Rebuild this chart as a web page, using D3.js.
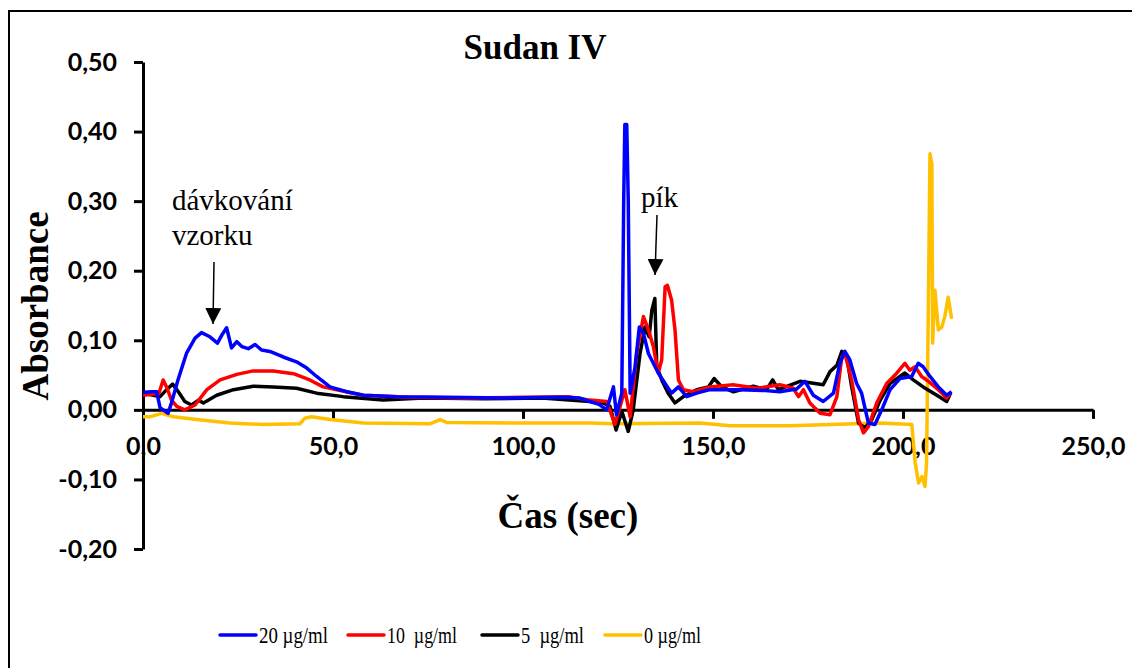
<!DOCTYPE html>
<html>
<head>
<meta charset="utf-8">
<script src="https://cdn.jsdelivr.net/npm/d3@7"></script>
<style>
  body { margin: 0; background: #fff; }
  svg { display: block; }
</style>
</head>
<body>
<svg id="container"></svg>
<script>
// time (sec) and absorbance
const blueT = [0, 2, 3.6, 4.5, 6.6, 7.5, 9.2, 11.5, 13.7, 15.4, 17.6, 19.6, 20.7, 22, 23.3, 24.7, 26, 27.7, 29.5, 31.2, 33.4, 36.9, 40.4, 43.1, 45.7, 49.2, 53.6, 58, 66.8, 80, 95, 110, 115, 117.6, 120, 122, 123.8, 124.6, 126, 126.5, 126.8, 127.3, 127.7, 128.2, 129.5, 130.6, 131.7, 133, 134.3, 135.6, 137.4, 139.1, 140.9, 143.1, 145.7, 149.2, 157.1, 163, 167.6, 172, 174.2, 176.4, 179, 181.7, 183.4, 184.7, 186, 187.8, 189.1, 190.9, 192.6, 194.4, 196.6, 199.2, 202.3, 204, 205.3, 207.1, 209.3, 211.5, 212.8]
const blueV = [0.025, 0.026, 0.026, 0.003, -0.005, 0.01, 0.043, 0.082, 0.103, 0.111, 0.105, 0.096, 0.107, 0.118, 0.089, 0.098, 0.091, 0.088, 0.094, 0.086, 0.084, 0.076, 0.069, 0.06, 0.048, 0.033, 0.026, 0.021, 0.019, 0.018, 0.017, 0.018, 0.017, 0.012, 0.008, 0, 0.033, -0.007, 0.024, 0.3, 0.41, 0.41, 0.3, 0.024, 0.062, 0.119, 0.11, 0.081, 0.067, 0.053, 0.038, 0.024, 0.033, 0.019, 0.024, 0.029, 0.029, 0.028, 0.026, 0.03, 0.041, 0.021, 0.012, 0.024, 0.067, 0.084, 0.072, 0.038, 0.024, -0.019, -0.021, 0, 0.029, 0.045, 0.048, 0.067, 0.062, 0.048, 0.033, 0.021, 0.026]

const redT = [0, 2, 4.2, 5.3, 6.2, 7.5, 8.9, 11, 13.7, 16.8, 20.3, 24.7, 29, 34.3, 39.6, 43.9, 47.4, 51, 58, 70, 85, 100, 112, 117.6, 122, 124.2, 126.8, 128.2, 129.9, 131.7, 133, 134.3, 135.6, 136.5, 137.4, 138, 139.1, 140, 140.9, 142.2, 144.8, 149.2, 155.3, 161.5, 167.6, 171.1, 172.5, 173.8, 175.5, 178.2, 180.8, 182.6, 183.9, 184.7, 186.5, 188.3, 189.6, 190.9, 193.1, 195.7, 198.4, 200.5, 201.8, 203.2, 204.9, 206.7, 209.3, 211.5, 212.5]
const redV = [0.021, 0.022, 0.024, 0.043, 0.033, 0.014, 0.005, 0, 0.007, 0.029, 0.043, 0.051, 0.056, 0.056, 0.052, 0.043, 0.033, 0.029, 0.021, 0.018, 0.017, 0.018, 0.019, 0.014, 0.012, -0.021, 0.029, -0.01, 0.081, 0.134, 0.115, 0.091, 0.053, 0.072, 0.177, 0.179, 0.158, 0.115, 0.043, 0.029, 0.026, 0.033, 0.036, 0.031, 0.036, 0.031, 0.019, 0.029, 0.01, -0.005, -0.007, 0.019, 0.076, 0.081, 0.043, -0.014, -0.033, -0.024, 0.01, 0.038, 0.053, 0.067, 0.057, 0.062, 0.048, 0.041, 0.029, 0.017, 0.024]

const blackT = [0, 2.7, 4.5, 6.2, 7.8, 9.3, 11, 12.8, 14.6, 15.9, 19.4, 23.8, 29, 34.3, 40.4, 45.7, 52.7, 63.2, 73.8, 90, 105, 117.6, 121.1, 122.9, 124.5, 126, 127.7, 129, 130.8, 132.1, 133.2, 133.9, 134.7, 135.2, 136.5, 138.2, 140, 142.2, 145.7, 148.8, 150.3, 152.3, 155.4, 160.6, 164.1, 165.7, 167.2, 172.9, 179, 180.8, 182.6, 183.9, 185.2, 186.5, 188.3, 190, 191.8, 194, 196.6, 199.2, 200.5, 202.7, 205.3, 208.9, 211.5, 212.5]
const blackV = [0.024, 0.021, 0.019, 0.029, 0.037, 0.026, 0.012, 0.007, 0.014, 0.01, 0.021, 0.029, 0.034, 0.033, 0.031, 0.024, 0.019, 0.014, 0.017, 0.016, 0.017, 0.012, 0.01, 0.005, -0.029, -0.002, -0.031, 0, 0.081, 0.119, 0.105, 0.143, 0.16, 0.062, 0.043, 0.024, 0.01, 0.019, 0.029, 0.033, 0.045, 0.033, 0.026, 0.034, 0.029, 0.043, 0.029, 0.041, 0.036, 0.055, 0.064, 0.084, 0.076, 0.033, -0.019, -0.026, -0.014, 0.014, 0.038, 0.048, 0.053, 0.043, 0.033, 0.021, 0.012, 0.024]

const orangeT = [0, 1.8, 4.9, 8, 14.1, 22.9, 31.7, 41.3, 42.6, 44.4, 49.2, 58, 75.5, 78.2, 79.9, 101.8, 117.6, 123.7, 146.6, 154.5, 170.3, 193.9, 202.3, 202.8, 203.2, 204.1, 205, 205.8, 206.2, 206.7, 207.1, 207.6, 207.8, 208.4, 209.3, 210.2, 211, 211.9, 212.8]
const orangeV = [-0.01, -0.01, -0.005, -0.01, -0.014, -0.019, -0.021, -0.02, -0.012, -0.01, -0.014, -0.019, -0.02, -0.014, -0.018, -0.019, -0.019, -0.02, -0.019, -0.023, -0.023, -0.019, -0.021, -0.05, -0.076, -0.105, -0.096, -0.11, -0.076, 0.162, 0.368, 0.353, 0.096, 0.172, 0.115, 0.119, 0.134, 0.162, 0.131]

const seriesNames = ['20 µg/ml', '10  µg/ml', '5  µg/ml', '0 µg/ml']
const seriesColors = ['#0000ff', '#ff0000', '#000000', '#ffc000']
const xTicks = [0, 50, 100, 150, 200, 250]
const yTicks = [-0.2, -0.1, 0, 0.1, 0.2, 0.3, 0.4, 0.5]

const series = [
  { t: blueT, v: blueV },
  { t: redT, v: redV },
  { t: blackT, v: blackV },
  { t: orangeT, v: orangeV }
].map((s, i) => ({
  name: seriesNames[i],
  color: seriesColors[i],
  points: s.t.map((t, j) => [t, s.v[j]])
}))

const width = 1132
const height = 668
const serif = "'Liberation Serif', 'Times New Roman', serif"
const sans = "'Lato', 'Carlito', sans-serif"

const svg = d3
  .select('#container')
  .attr('width', width)
  .attr('height', height)

// outer frame (runs off right and bottom edges)
svg
  .append('rect')
  .attr('x', 9)
  .attr('y', 11)
  .attr('width', 1200)
  .attr('height', 700)
  .attr('fill', '#fff')
  .attr('stroke', '#000')
  .attr('stroke-width', 2)

const x = d3.scaleLinear().domain([0, 250]).range([143, 1093])
const y = d3.scaleLinear().domain([-0.2, 0.5]).range([549, 62])

const comma = f => d => d3.format(f)(d).replace('.', ',').replace('−', '-')

// x axis sits at zero
const gX = svg
  .append('g')
  .attr('transform', `translate(0,${y(0)})`)
  .call(d3.axisBottom(x).tickValues(xTicks).tickSize(9).tickSizeOuter(0).tickFormat(comma('.1f')))
gX.select('.domain').attr('stroke-width', 3)
gX.selectAll('.tick line').attr('stroke-width', 3)
gX.selectAll('.tick text')
  .attr('y', 27)
  .style('font-family', sans)
  .style('font-weight', 'bold')
  .style('font-size', '25px')
  .attr('fill', '#000')

const gY = svg
  .append('g')
  .attr('transform', `translate(${x(0)},0)`)
  .call(d3.axisLeft(y).tickValues(yTicks).tickSize(9).tickSizeOuter(0).tickFormat(comma('.2f')))
gY.select('.domain').attr('stroke-width', 3)
gY.selectAll('.tick line').attr('stroke-width', 3)
gY.selectAll('.tick text')
  .attr('x', -26)
  .style('font-family', sans)
  .style('font-weight', 'bold')
  .style('font-size', '25px')
  .attr('fill', '#000')

// lines
const line = d3
  .line()
  .x(d => x(d[0]))
  .y(d => y(d[1]))

svg
  .append('g')
  .selectAll('path')
  .data(series.slice().reverse())
  .join('path')
  .attr('d', d => line(d.points))
  .attr('fill', 'none')
  .attr('stroke', d => d.color)
  .attr('stroke-width', 3.5)
  .attr('stroke-linejoin', 'round')

// title and axis titles
svg
  .append('text')
  .attr('x', 535)
  .attr('y', 59)
  .attr('text-anchor', 'middle')
  .style('font-family', serif)
  .style('font-weight', 'bold')
  .style('font-size', '35px')
  .text('Sudan IV')

svg
  .append('text')
  .attr('transform', 'translate(48,306) rotate(-90)')
  .attr('text-anchor', 'middle')
  .style('font-family', serif)
  .style('font-weight', 'bold')
  .style('font-size', '37px')
  .text('Absorbance')

svg
  .append('text')
  .attr('x', 568)
  .attr('y', 528)
  .attr('text-anchor', 'middle')
  .style('font-family', serif)
  .style('font-weight', 'bold')
  .style('font-size', '37px')
  .text('Čas (sec)')

// annotations
svg
  .append('defs')
  .append('marker')
  .attr('id', 'head')
  .attr('viewBox', '0 0 10 10')
  .attr('refX', 10)
  .attr('refY', 5)
  .attr('markerWidth', 16)
  .attr('markerHeight', 16)
  .attr('markerUnits', 'userSpaceOnUse')
  .attr('orient', 'auto')
  .append('path')
  .attr('d', 'M0,0 L10,5 L0,10 Z')
  .attr('fill', '#000')

const note = svg
  .append('g')
  .style('font-family', serif)
  .style('font-size', '29px')
  .attr('fill', '#000')

note.append('text').attr('x', 172).attr('y', 210).text('dávkování')
note.append('text').attr('x', 172).attr('y', 245).text('vzorku')
note.append('text').attr('x', 641).attr('y', 207).text('pík')

const arrows = [
  [[214, 262], [213, 324]],
  [[657, 215], [655, 275]]
]
svg
  .append('g')
  .selectAll('line')
  .data(arrows)
  .join('line')
  .attr('x1', d => d[0][0])
  .attr('y1', d => d[0][1])
  .attr('x2', d => d[1][0])
  .attr('y2', d => d[1][1])
  .attr('stroke', '#000')
  .attr('stroke-width', 1.5)
  .attr('marker-end', 'url(#head)')

// legend
const legendX = [220, 348, 482, 605]
const legendW = [69, 70, 63, 57]
const legend = svg
  .append('g')
  .selectAll('g')
  .data(series)
  .join('g')
  .attr('transform', (d, i) => `translate(${legendX[i]},635)`)

legend
  .append('line')
  .attr('x1', 0)
  .attr('x2', 36)
  .attr('stroke', d => d.color)
  .attr('stroke-width', 3.5)
  .attr('stroke-linecap', 'round')

legend
  .append('text')
  .attr('x', 39)
  .attr('y', 8)
  .attr('textLength', (d, i) => legendW[i])
  .attr('lengthAdjust', 'spacingAndGlyphs')
  .style('font-family', serif)
  .style('font-size', '24px')
  .style('white-space', 'pre')
  .text(d => d.name)
</script>
</body>
</html>
